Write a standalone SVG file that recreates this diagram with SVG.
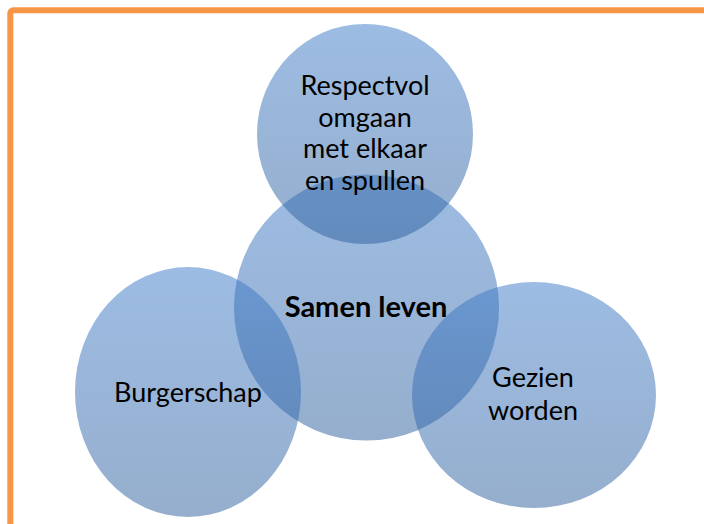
<svg xmlns="http://www.w3.org/2000/svg" width="704" height="524" viewBox="0 0 704 524">
  <defs>
    <linearGradient id="blue" x1="0" y1="0" x2="0" y2="1">
      <stop offset="0" stop-color="rgb(59,121,199)" stop-opacity="0.5"/>
      <stop offset="1" stop-color="rgb(43,93,155)" stop-opacity="0.5"/>
    </linearGradient>
  </defs>
  <style>
    .c { fill: url(#blue); stroke: none; }
    .t { font-family: Lato, "Open Sans", "Liberation Sans", sans-serif; font-size: 27px; fill: #000; text-anchor: middle; }
    .b { font-weight: bold; font-size: 29px; }
  </style>
  <rect x="0" y="0" width="704" height="524" fill="#ffffff"/>
  <rect x="10.3" y="10.3" width="720" height="540" rx="3" fill="none" stroke="#F79646" stroke-width="6"/>
  <g id="connectors"></g>
  <g id="samen-leven">
    <ellipse class="c" cx="366.5" cy="307.5" rx="132.5" ry="133"/>
    <text class="t b" x="366" y="317">Samen leven</text>
  </g>
  <g id="burgerschap">
    <ellipse class="c" cx="188" cy="392" rx="113" ry="125"/>
    <text class="t" x="188" y="402">Burgerschap</text>
  </g>
  <g id="gezien-worden">
    <ellipse class="c" cx="534" cy="395" rx="122" ry="113"/>
    <text class="t" x="533" y="387">Gezien</text>
    <text class="t" x="533" y="420">worden</text>
  </g>
  <g id="respectvol">
    <ellipse class="c" cx="365" cy="134" rx="108" ry="110"/>
    <text class="t" x="365" y="95">Respectvol</text>
    <text class="t" x="365" y="127">omgaan</text>
    <text class="t" x="365" y="158">met elkaar</text>
    <text class="t" x="365" y="190">en spullen</text>
  </g>
</svg>
